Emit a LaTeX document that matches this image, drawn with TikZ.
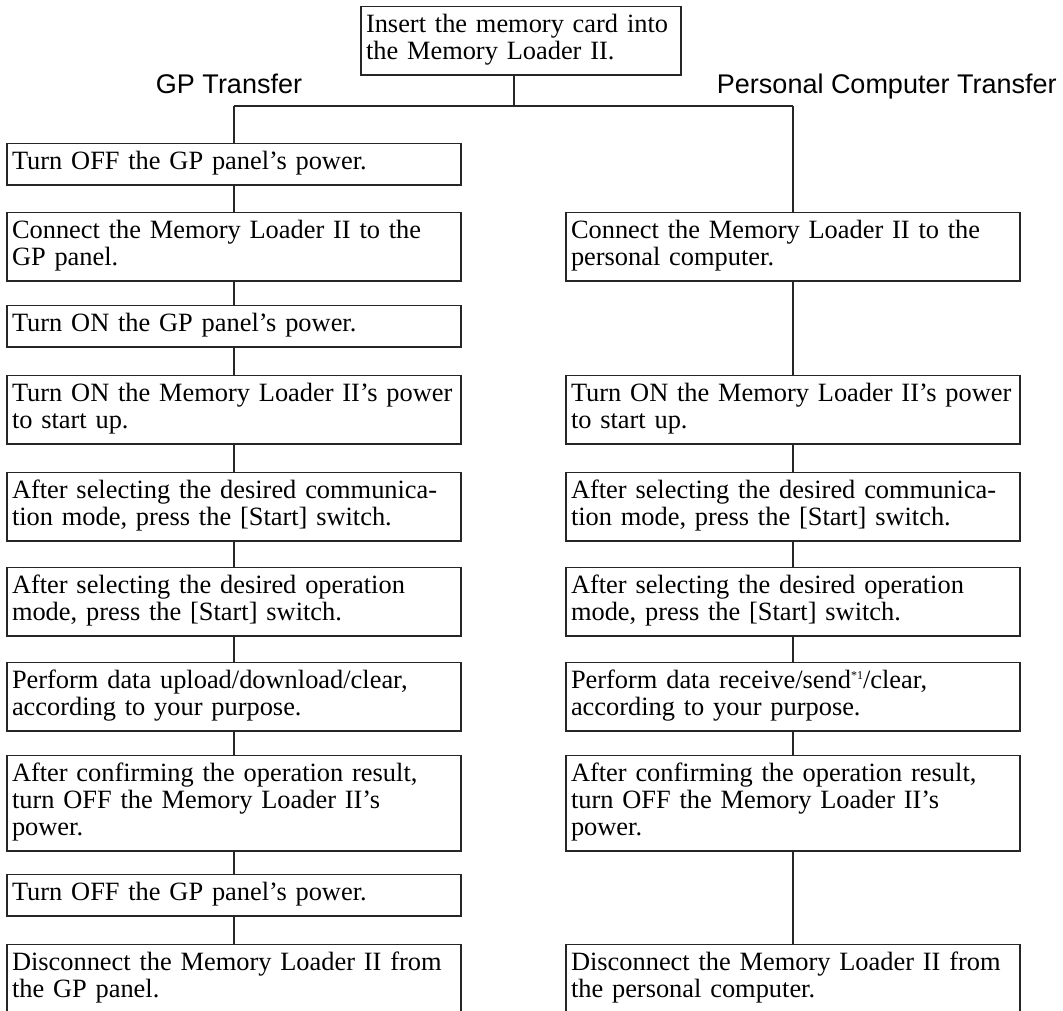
\documentclass[tikz,border=0pt]{standalone}
\usepackage{fontspec}
\setmainfont{Liberation Serif}
\newfontfamily\headfont{Liberation Sans}
\usetikzlibrary{positioning}

\tikzset{
  stepbox/.style={draw=black!85, line width=0.6pt, anchor=north,
    text width=222pt, align=left, inner xsep=2.5pt, inner ysep=3.6pt,
    font=\fontsize{13.2}{13.5}\selectfont,
    execute at begin node=\strut, execute at end node=\strut},
  heading/.style={font=\headfont\fontsize{13.5}{13.5}\selectfont, inner sep=0pt},
  link/.style={draw=black!85, line width=0.6pt}
}

\begin{document}
\begin{tikzpicture}[x=0.5pt, y=-0.5pt]
  \def\colL{234};
  \def\colR{793};
  \def\split{106};

  \useasboundingbox (0,0) rectangle (1063,1010);

  % start
  \node [stepbox, text width=155pt, inner xsep=2.5pt] (insert) at (521,6)
    {Insert the memory card into\\the Memory Loader II.};

  \node [heading, anchor=base] (gphead) at (229,94) {GP Transfer};
  \node [heading, anchor=base east] (pchead) at (1057,94) {Personal Computer Transfer};

  \coordinate (split) at (514,\split);
  \coordinate (gpsplit) at (\colL,\split);
  \coordinate (pcsplit) at (\colR,\split);

  % GP transfer
  \node [stepbox] (gp1) at (\colL,143) {Turn OFF the GP panel's power.};
  \node [stepbox] (gp2) at (\colL,212) {Connect the Memory Loader II to the\\GP panel.};
  \node [stepbox] (gp3) at (\colL,305) {Turn ON the GP panel's power.};
  \node [stepbox] (gp4) at (\colL,375) {Turn ON the Memory Loader II's power\\to start up.};
  \node [stepbox] (gp5) at (\colL,472) {After selecting the desired communica-\\tion mode, press the [Start] switch.};
  \node [stepbox] (gp6) at (\colL,567) {After selecting the desired operation\\mode, press the [Start] switch.};
  \node [stepbox] (gp7) at (\colL,662) {Perform data upload/download/clear,\\according to your purpose.};
  \node [stepbox] (gp8) at (\colL,755) {After confirming the operation result,\\turn OFF the Memory Loader II's\\power.};
  \node [stepbox] (gp9) at (\colL,874) {Turn OFF the GP panel's power.};
  \node [stepbox] (gp10) at (\colL,944) {Disconnect the Memory Loader II from\\the GP panel.};

  % personal computer transfer
  \node [stepbox] (pc2) at (\colR,212) {Connect the Memory Loader II to the\\personal computer.};
  \node [stepbox] (pc4) at (\colR,375) {Turn ON the Memory Loader II's power\\to start up.};
  \node [stepbox] (pc5) at (\colR,472) {After selecting the desired communica-\\tion mode, press the [Start] switch.};
  \node [stepbox] (pc6) at (\colR,567) {After selecting the desired operation\\mode, press the [Start] switch.};
  \node [stepbox] (pc7) at (\colR,662) {Perform data receive/send\raisebox{0.75ex}{\fontsize{6}{6}\selectfont*1}/clear,\\according to your purpose.};
  \node [stepbox] (pc8) at (\colR,755) {After confirming the operation result,\\turn OFF the Memory Loader II's\\power.};
  \node [stepbox] (pc10) at (\colR,944) {Disconnect the Memory Loader II from\\the personal computer.};

  % connectors
  \draw [link] (insert.south -| split) -- (split);
  \draw [link] (gpsplit) -- (pcsplit);
  \draw [link] (gpsplit) -- (gp1);
  \draw [link] (pcsplit) -- (pc2);
  \foreach \a/\b in {gp1/gp2, gp2/gp3, gp3/gp4, gp4/gp5, gp5/gp6, gp6/gp7, gp7/gp8, gp8/gp9, gp9/gp10,
                     pc2/pc4, pc4/pc5, pc5/pc6, pc6/pc7, pc7/pc8, pc8/pc10}
    \draw [link] (\a) -- (\b);
\end{tikzpicture}
\end{document}
